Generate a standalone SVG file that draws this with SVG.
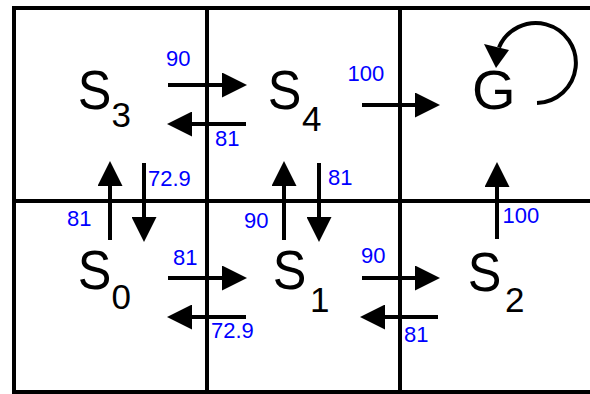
<svg xmlns="http://www.w3.org/2000/svg" width="590" height="394" viewBox="0 0 590 394">
<style>
.grid{fill:none;stroke:#000;stroke-width:4}
.arr{fill:none;stroke:#000;stroke-width:4;marker-end:url(#ah)}
.st{font-family:"Liberation Sans",Arial,sans-serif;font-size:56px;fill:#000}
.sub{font-family:"Liberation Sans",Arial,sans-serif;font-size:35px;fill:#000}
.lbl{font-family:"Liberation Sans",Arial,sans-serif;font-size:22px;fill:#0000ff}
</style>
<defs>
<marker id="ah" markerUnits="userSpaceOnUse" markerWidth="25" markerHeight="25" viewBox="0 0 25 25" refX="1" refY="12.5" orient="auto">
<path d="M0,0 L25,12.5 L0,25 z" fill="#000"/>
</marker>
</defs>
<rect fill="#fff" width="590" height="394"/>
<g id="grid">
<rect class="grid" x="14" y="8" width="620" height="384"/>
<line class="grid" x1="207" y1="8" x2="207" y2="392"/>
<line class="grid" x1="400" y1="8" x2="400" y2="392"/>
<line class="grid" x1="14" y1="201" x2="600" y2="201"/>
</g>
<g id="S3"><text class="st" transform="translate(77.7,108.5) scale(0.9,1)">S</text><text class="sub" x="111.5" y="126.5">3</text></g>
<g id="S4"><text class="st" transform="translate(267.7,108.5) scale(0.9,1)">S</text><text class="sub" x="302" y="130.5">4</text></g>
<g id="G"><text class="st" x="472" y="109">G</text></g>
<g id="S0"><text class="st" transform="translate(77.7,288.5) scale(0.9,1)">S</text><text class="sub" x="111.5" y="309">0</text></g>
<g id="S1"><text class="st" transform="translate(272.7,288.5) scale(0.9,1)">S</text><text class="sub" x="310" y="312">1</text></g>
<g id="S2"><text class="st" transform="translate(467.7,291) scale(0.9,1)">S</text><text class="sub" x="505" y="312">2</text></g>
<g id="connectors">
<path class="arr" d="M168,85 H223"/>
<path class="arr" d="M246,124 H191"/>
<path class="arr" d="M362,105 H416"/>
<path class="arr" d="M110,240 V185"/>
<path class="arr" d="M144,163 V218"/>
<path class="arr" d="M284,240 V185"/>
<path class="arr" d="M319,163 V218"/>
<path class="arr" d="M497,239 V186"/>
<path class="arr" d="M168,278 H223"/>
<path class="arr" d="M246,317 H191"/>
<path class="arr" d="M362,278 H416"/>
<path class="arr" d="M438,317 H384"/>
<path d="M537,103 A40,40 0 1 0 499,47.5" fill="none" stroke="#000" stroke-width="4"/>
<polygon points="484,44 509,50 496,68" fill="#000"/>
</g>
<g id="labels">
<text class="lbl" x="166" y="66">90</text>
<text class="lbl" x="215" y="146">81</text>
<text class="lbl" x="347.5" y="81">100</text>
<text class="lbl" x="148" y="186">72.9</text>
<text class="lbl" x="67" y="226">81</text>
<text class="lbl" x="328" y="185">81</text>
<text class="lbl" x="244" y="228">90</text>
<text class="lbl" x="502.5" y="223">100</text>
<text class="lbl" x="173" y="265">81</text>
<text class="lbl" x="211" y="338">72.9</text>
<text class="lbl" x="361" y="263">90</text>
<text class="lbl" x="404" y="342">81</text>
</g>
</svg>
